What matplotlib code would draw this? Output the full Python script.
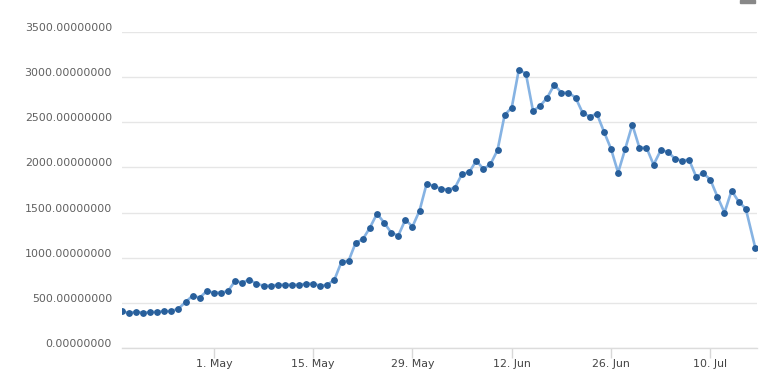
import matplotlib
matplotlib.use("Agg")
import matplotlib.pyplot as plt
import matplotlib.dates as mdates
import matplotlib.transforms as mtransforms
from matplotlib.patches import Rectangle
import pandas as pd

start_date = "2017-04-18"
values = [404, 385, 400, 389, 393, 400, 404, 407, 433, 507,
          577, 555, 629, 611, 611, 629, 742, 722, 755, 710,
          688, 688, 699, 699, 699, 699, 710, 710, 688, 699,
          755, 955, 964, 1166, 1203, 1332, 1487, 1388, 1277, 1243,
          1421, 1343, 1521, 1820, 1795, 1765, 1754, 1776, 1930, 1946,
          2076, 1983, 2035, 2194, 2583, 2664, 3086, 3041, 2627, 2683,
          2775, 2919, 2829, 2831, 2775, 2605, 2564, 2597, 2398, 2206,
          1943, 2206, 2475, 2220, 2220, 2031, 2189, 2176, 2098, 2076,
          2087, 1898, 1936, 1865, 1676, 1499, 1743, 1621, 1543, 1110]
last_time = "2017-07-16 08:00"
tick_dates = ["2017-05-01", "2017-05-15", "2017-05-29", "2017-06-12", "2017-06-26", "2017-07-10"]
tick_labels = ["1. May", "15. May", "29. May", "12. Jun", "26. Jun", "10. Jul"]
y_ticks = [0, 500, 1000, 1500, 2000, 2500, 3000, 3500]
y_labels = [f"{v:.8f}" for v in y_ticks]

dates = list(pd.date_range(start_date, periods=len(values) - 1, freq="D")) + [pd.Timestamp(last_time)]

W, H = 781, 382
fig = plt.figure(figsize=(W / 100, H / 100), dpi=100)
left, right, top, bottom = 121.7, 757, 32.3, 347.7
ax = fig.add_axes([left / W, 1 - bottom / H, (right - left) / W, (bottom - top) / H])

ax.plot(dates, values, color="#86b3e3", lw=1.9, zorder=3, solid_joinstyle="round")
ax.plot(dates, values, ls="none", marker="o", ms=3.9, color="#285f9b", mec="#285f9b", zorder=4)

ax.set_ylim(0, 3500)
ax.set_xlim(pd.Timestamp(start_date), pd.Timestamp("2017-07-16 14:00"))

ax.set_yticks(y_ticks)
ax.set_yticklabels(y_labels)
ax.set_xticks([pd.Timestamp(d) for d in tick_dates])
ax.set_xticklabels(tick_labels)

ax.grid(axis="y", color="#e6e6e6", lw=1)
ax.set_axisbelow(True)
for s in ["left", "right", "top"]:
    ax.spines[s].set_visible(False)
ax.spines["bottom"].set_color("#dcdcdc")
ax.spines["bottom"].set_linewidth(1)

ax.tick_params(axis="y", length=0, pad=7, labelsize=7.9, labelcolor="#606060")
ax.tick_params(axis="x", length=7.2, width=1, color="#d8d8d8", pad=1, labelsize=7.9, labelcolor="#444444")

offset = mtransforms.ScaledTranslation(0, 5 / 100, fig.dpi_scale_trans)
for lab in ax.get_yticklabels():
    lab.set_transform(lab.get_transform() + offset)

fig.patches.append(Rectangle((740 / W, 1 - 2.5 / H), 15 / W, 2.5 / H, transform=fig.transFigure,
                             color="#888888", zorder=10))

fig.savefig("out.png", dpi=100)
